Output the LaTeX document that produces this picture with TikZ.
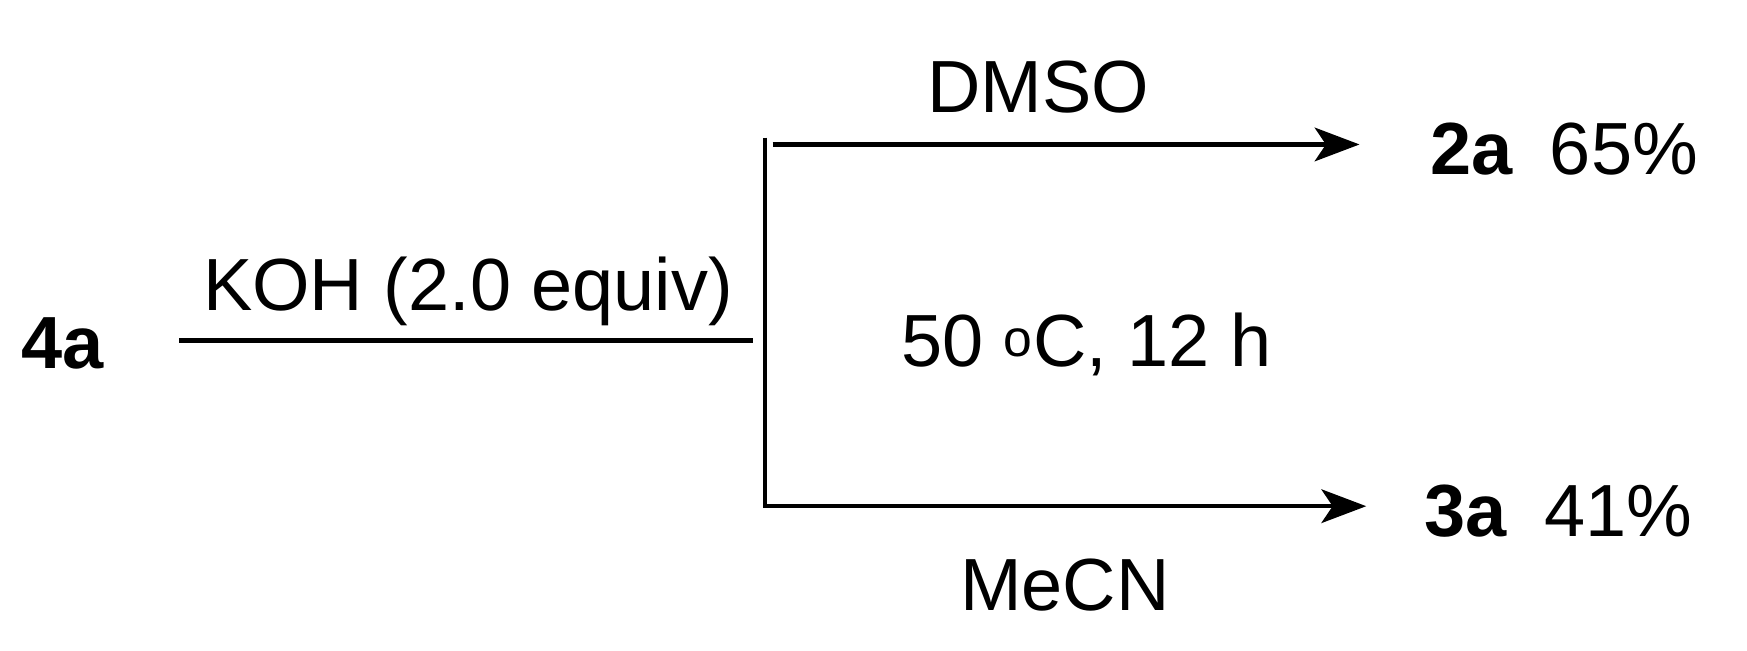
\documentclass[tikz,border=0pt]{standalone}
\usepackage{fontspec}
\setmainfont{Liberation Sans}
\usetikzlibrary{arrows.meta}
\begin{document}
\begin{tikzpicture}[x=1pt,y=-1pt,
  lbl/.style={inner sep=0pt,font=\fontsize{66}{70}\selectfont},
  bline/.style={line width=4pt},
  arr/.style={line width=4pt,-{Stealth[length=40pt,width=30pt,inset=10pt]}}]
\useasboundingbox (0,0) rectangle (1560,581);
\node[lbl,font=\fontsize{66}{70}\selectfont\bfseries] (s) at (56,307) {4a};
\coordinate (l0) at (160,304);
\coordinate (l1) at (672,304);
\draw[bline] (l0) -- (l1);
\node[lbl] (koh) at (418,260) {KOH (2.0 equiv)};
\coordinate (vt) at (683,123);
\coordinate (vb) at (683,454);
\draw[line width=3pt] (vt) -- (vb);
\coordinate (a0) at (690,129);
\coordinate (a1) at (1214,129);
\coordinate (b0) at (683,452);
\coordinate (b1) at (1220,452);
\draw[arr] (a0) -- (a1);
\draw[arr] (b0) -- (b1);
\node[lbl] (dmso) at (927,78) {DMSO};
\node[lbl] (cond) at (970,308) {50 \textsuperscript{o}C, 12 h};
\node[lbl] (mecn) at (951,522) {MeCN};
\node[lbl,anchor=west] (p2) at (1277,133) {\textbf{2a}\hspace{0.5em}65\%};
\node[lbl,anchor=west] (p3) at (1272,456) {\textbf{3a}\hspace{0.5em}41\%};
\end{tikzpicture}
\end{document}
